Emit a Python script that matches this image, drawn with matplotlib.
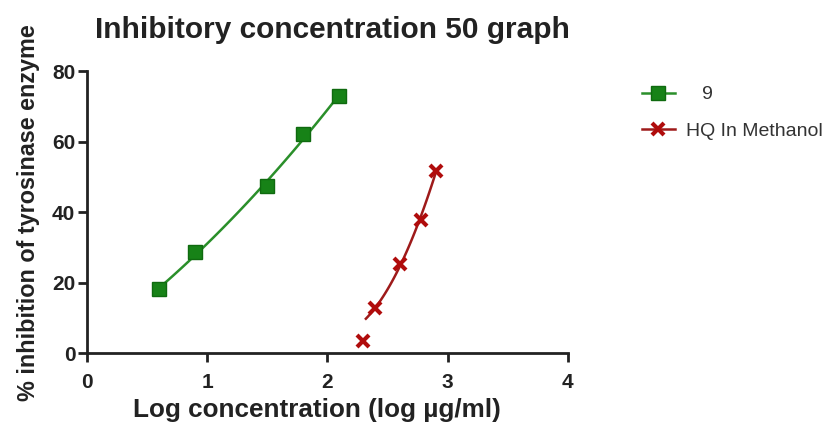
import numpy as np
import matplotlib
matplotlib.use("Agg")
import matplotlib.pyplot as plt

plt.rcParams["font.family"] = ["Liberation Sans", "DejaVu Sans"]

# series
green_x = [0.6, 0.9, 1.5, 1.8, 2.1]
green_y = [18.2, 28.6, 47.4, 62.2, 72.9]
red_x = [2.3, 2.4, 2.6, 2.78, 2.9]
red_y = [3.4, 12.7, 25.4, 37.8, 51.6]
xticks = [0, 1, 2, 3, 4]
yticks = [0, 20, 40, 60, 80]

GREEN = "#2a8f2a"
GREEN_M = "#178217"
RED = "#9e1a1a"
RED_M = "#b00c0c"

fig = plt.figure(figsize=(8.3, 4.23), dpi=100)
ax = fig.add_axes([0.105, 0.165, 0.579, 0.667])

# fitted curves (simple polynomial fits of the points)
gfit = np.polyfit(green_x, green_y, 2)
gx = np.linspace(green_x[0], green_x[-1], 100)
ax.plot(gx, np.polyval(gfit, gx), color=GREEN, lw=1.8, zorder=2)
rfit = np.polyfit(red_x[1:], red_y[1:], 2)
rx = np.linspace(red_x[0] + 0.02, red_x[-1], 100)
ax.plot(rx, np.polyval(rfit, rx), color=RED, lw=1.8, zorder=2)

ax.plot(green_x, green_y, ls="none", marker="s", ms=10.5, mfc=GREEN_M,
        mec="#0f6a0f", mew=1.0, zorder=3)
ax.plot(red_x, red_y, ls="none", marker="x", ms=8, mec=RED_M, mew=3,
        zorder=3)

# legend proxies
ax.plot([], [], color=GREEN, lw=1.8, marker="s", ms=10, mfc=GREEN_M,
        mec="#0f6a0f", label="   9")
ax.plot([], [], color=RED, lw=1.8, marker="x", ms=8, mec=RED_M, mew=3,
        label="HQ In Methanol")
leg = fig.legend(loc="upper left", bbox_to_anchor=(0.773, 0.797), frameon=False,
                 fontsize=14, handlelength=1.7, labelspacing=0.95,
                 handletextpad=0.6, borderpad=0, borderaxespad=0)
for t in leg.get_texts():
    t.set_color("#333333")

ax.set_xlim(0, 4)
ax.set_ylim(0, 80)
ax.set_xticks(xticks)
ax.set_yticks(yticks)
for s in ["top", "right"]:
    ax.spines[s].set_visible(False)
for s in ["left", "bottom"]:
    ax.spines[s].set_linewidth(2)
    ax.spines[s].set_color("#222222")
ax.tick_params(width=2, length=6.5, direction="out", labelsize=15, colors="#222222")
ax.tick_params(axis="x", pad=8)
ax.tick_params(axis="y", pad=2)
for lbl in ax.get_xticklabels() + ax.get_yticklabels():
    lbl.set_fontweight("bold")

ax.set_xlabel("Log concentration (log µg/ml)", fontsize=18.8, fontweight="bold",
              color="#222222", labelpad=4)
ax.set_ylabel("% inhibition of tyrosinase enzyme", fontsize=16.8,
              fontweight="bold", color="#222222", labelpad=9)
ax.xaxis.label.set_x(0.477)
fig.text(0.401, 0.93, "Inhibitory concentration 50 graph", ha="center",
         va="center", fontsize=21.5, fontweight="bold", color="#222222")

fig.savefig("out.png", dpi=100, facecolor="white")
